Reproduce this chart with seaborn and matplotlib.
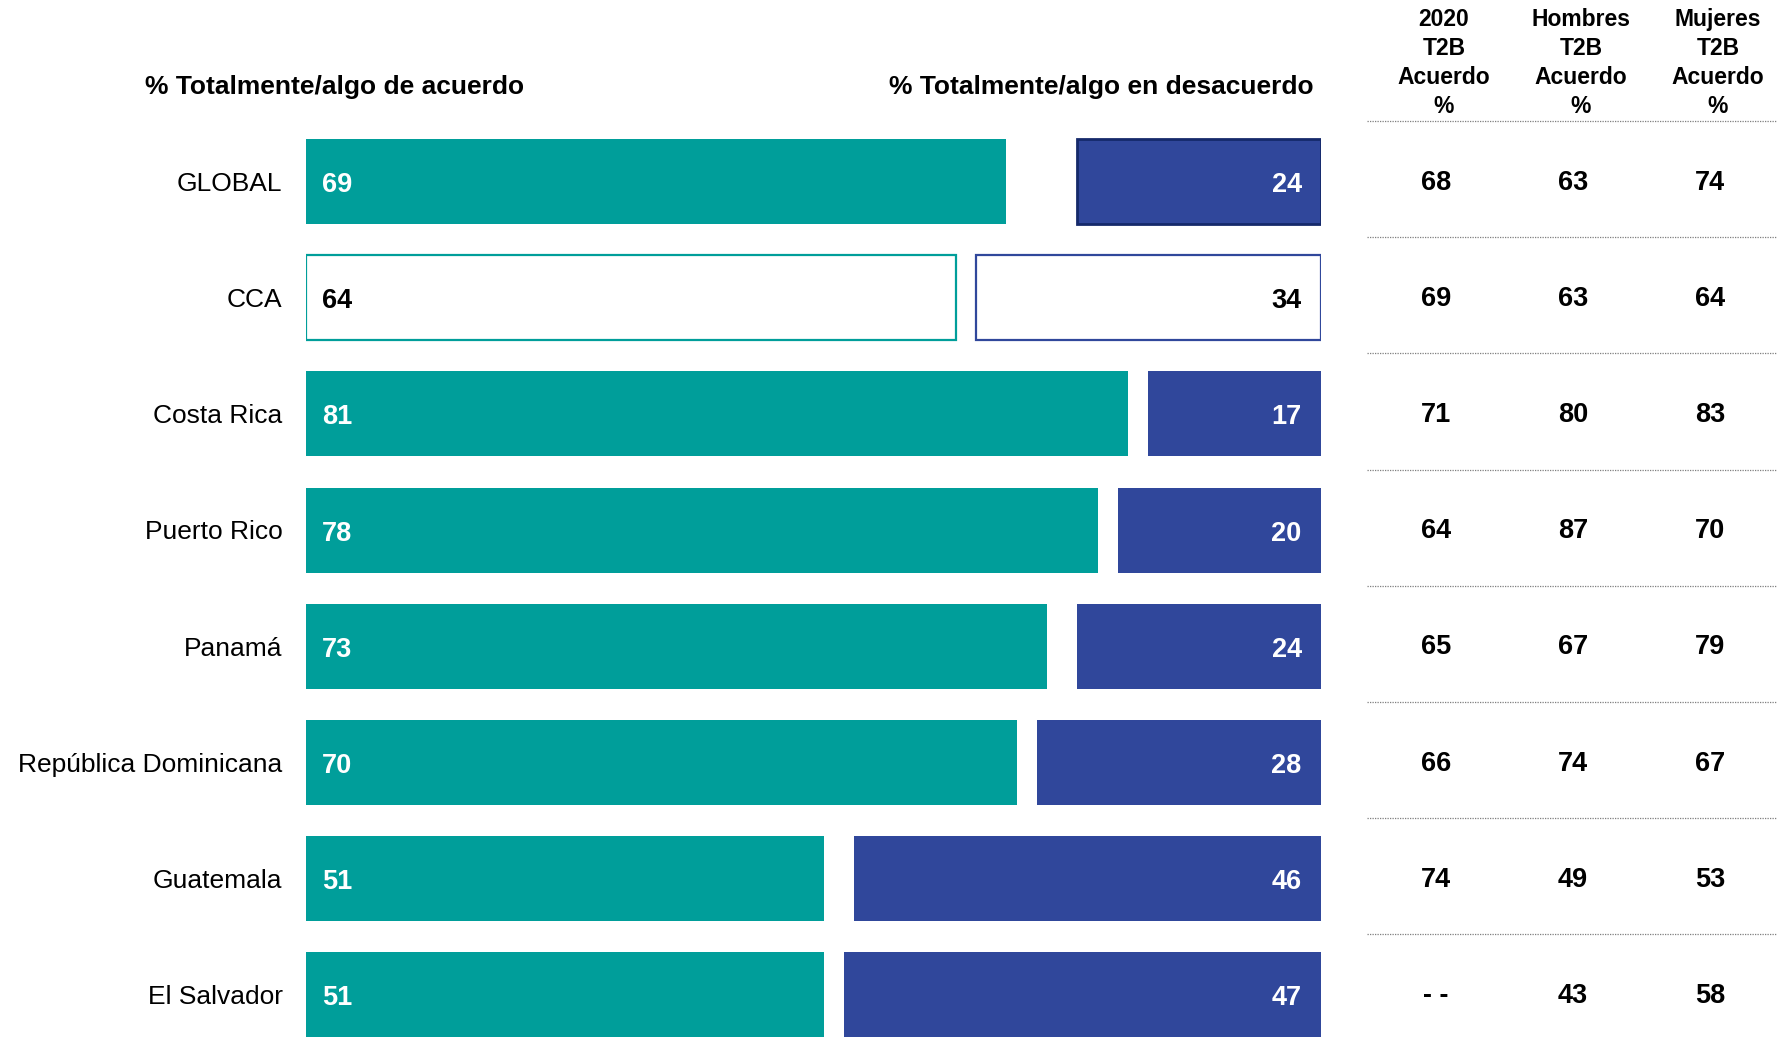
import matplotlib
matplotlib.use("Agg")
import matplotlib.pyplot as plt
import matplotlib.transforms as mtransforms
import seaborn as sns
import pandas as pd

# Survey results by country
categories = ["GLOBAL", "CCA", "Costa Rica", "Puerto Rico", "Panamá",
              "República Dominicana", "Guatemala", "El Salvador"]
agree = [69, 64, 81, 78, 73, 70, 51, 51]
disagree = [24, 34, 17, 20, 24, 28, 46, 47]
t2b_2020 = ["68", "69", "71", "64", "65", "66", "74", "- -"]
t2b_hombres = ["63", "63", "80", "87", "67", "74", "49", "43"]
t2b_mujeres = ["74", "64", "83", "70", "79", "67", "53", "58"]
table_headers = ["2020\nT2B\nAcuerdo\n%", "Hombres\nT2B\nAcuerdo\n%", "Mujeres\nT2B\nAcuerdo\n%"]
left_title = "% Totalmente/algo de acuerdo"
right_title = "% Totalmente/algo en desacuerdo"

TEAL = "#009E9A"
BLUE = "#30479B"
NAVY = "#15296A"

sns.set_theme(style="white")
plt.rcParams["font.family"] = ["Liberation Sans", "DejaVu Sans"]
plt.rcParams["text.color"] = "black"

W, H = 1779, 1051
fig = plt.figure(figsize=(W / 100, H / 100), dpi=100)

# Bar panel: x 0..100 spans 306..1321 px, rows centred from y=181.5 px every 116.2 px
row_step = 116.2
top_px = 181.5 - row_step / 2
bottom_px = top_px + 8 * row_step
ax = fig.add_axes([306 / W, 1 - bottom_px / H, 1015 / W, (bottom_px - top_px) / H])

df = pd.DataFrame({"pais": categories, "acuerdo": agree, "desacuerdo": disagree})
palette = {c: TEAL for c in categories}
palette["CCA"] = "white"
sns.barplot(data=df, x="acuerdo", y="pais", hue="pais", palette=palette,
            orient="h", width=0.73, legend=False, ax=ax, saturation=1,
            linewidth=0)

# Disagreement bars anchored to the right edge
pos = list(range(len(categories)))
dis_colors = [BLUE if c != "CCA" else "white" for c in categories]
ax.barh(pos, df["desacuerdo"], left=100 - df["desacuerdo"], height=0.73,
        color=dis_colors, linewidth=0)

# Outlined regional (CCA) row and framed GLOBAL disagreement bar
for p in ax.patches:
    y0 = p.get_y() + p.get_height() / 2
    idx = int(round(y0))
    if categories[idx] == "CCA":
        p.set_linewidth(1.6)
        p.set_edgecolor(TEAL if p.get_x() < 1 else BLUE)
    elif categories[idx] == "GLOBAL" and p.get_x() > 1:
        p.set_linewidth(2.0)
        p.set_edgecolor(NAVY)

ax.set_xlim(0, 100)
ax.set_ylim(7.5, -0.5)
ax.set_xlabel("")
ax.set_ylabel("")
ax.set_xticks([])
ax.set_yticks([])
for s in ax.spines.values():
    s.set_visible(False)
ax.patch.set_alpha(0)

# Value labels inside bars
for i, c in enumerate(categories):
    col = "black" if c == "CCA" else "white"
    ax.text(1.6, i + 0.03, str(agree[i]), ha="left", va="center",
            fontsize=19.5, fontweight="bold", color=col)
    ax.text(98.1, i + 0.03, str(disagree[i]), ha="right", va="center",
            fontsize=19.5, fontweight="bold", color=col)

# Category labels
trans_fig_x = mtransforms.blended_transform_factory(fig.transFigure, ax.transData)
for i, c in enumerate(categories):
    ax.text(282.5 / W, i + 0.02, c, transform=trans_fig_x, ha="right",
            va="center", fontsize=19, color="black")

# Column titles above the bars
fig.text(145 / W, 1 - 87 / H, left_title, ha="left", va="center",
         fontsize=19, fontweight="bold", color="black")
fig.text(1314 / W, 1 - 87 / H, right_title, ha="right", va="center",
         fontsize=19, fontweight="bold", color="black")

# Side table
col_x = [1436 / W, 1573 / W, 1710 / W]
for x, head in zip(col_x, table_headers):
    fig.text(x + 8 / W, 1 - 63 / H, head, ha="center", va="center",
             fontsize=16.5, fontweight="bold", linespacing=1.33, color="black")
for x, vals in zip(col_x, [t2b_2020, t2b_hombres, t2b_mujeres]):
    for i, v in enumerate(vals):
        ax.text(x, i + 0.01, v, transform=trans_fig_x, ha="center",
                va="center", fontsize=19.5, fontweight="bold", color="black")

for k in range(len(categories)):
    ax.plot([1367 / W, 1776 / W], [k - 0.52, k - 0.52], transform=trans_fig_x,
            color="#7f7f7f", linestyle=(0, (1, 1)), linewidth=0.9,
            clip_on=False)

fig.savefig("out.png", dpi=100, facecolor="white")
